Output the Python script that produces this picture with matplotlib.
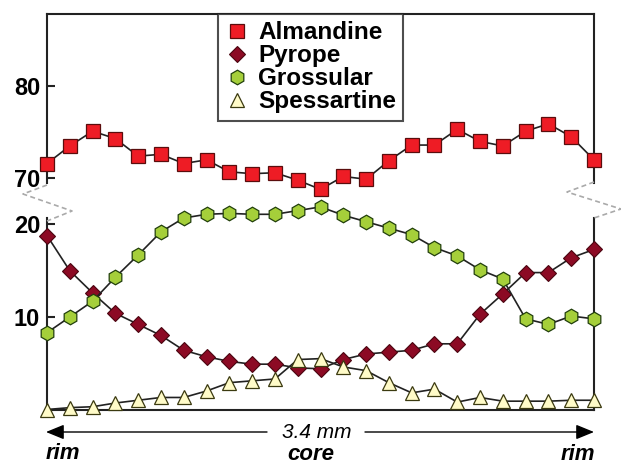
import numpy as np
import matplotlib
matplotlib.use("Agg")
import matplotlib.pyplot as plt
from matplotlib.lines import Line2D

# garnet traverse, rim -> core -> rim (mol %)
labels = ["Almandine", "Pyrope", "Grossular", "Spessartine"]
almandine = [71.6, 73.5, 75.1, 74.3, 72.4, 72.6, 71.6, 72.0, 70.7, 70.5, 70.6, 69.8, 68.8,
             70.2, 69.9, 71.9, 73.6, 73.6, 75.3, 74.0, 73.5, 75.1, 75.9, 74.5, 72.0]
pyrope = [18.8, 15.0, 12.6, 10.4, 9.2, 8.0, 6.4, 5.7, 5.2, 4.9, 4.9, 4.5, 4.4,
          5.4, 6.0, 6.2, 6.4, 7.1, 7.1, 10.3, 12.5, 14.8, 14.8, 16.4, 17.3]
grossular = [8.3, 10.0, 11.7, 14.3, 16.7, 19.2, 20.7, 21.1, 21.2, 21.1, 21.1, 21.5, 21.9,
             21.0, 20.3, 19.6, 18.9, 17.5, 16.6, 15.1, 14.1, 9.8, 9.2, 10.1, 9.8]
spessartine = [0.0, 0.2, 0.3, 0.7, 1.0, 1.3, 1.3, 2.0, 2.9, 3.1, 3.3, 5.4, 5.5,
               4.6, 4.2, 2.9, 1.8, 2.2, 0.8, 1.3, 0.9, 0.9, 0.9, 1.0, 1.0]
upper_ticks = [70, 80]
lower_ticks = [10, 20]
traverse_label = "3.4 mm"
end_labels = ["rim", "core", "rim"]

plt.rcParams['font.family'] = ['Liberation Sans', 'DejaVu Sans']

W, H = 621, 465


def fx(px):
    return px / W


def fy(py):
    return 1 - py / H


# marker styles for each mineral
styles = {
    "Almandine": dict(marker='s', ms=10.5, mfc='#ee1c25', mec='#5a0d0d', mew=0.9),
    "Pyrope": dict(marker='D', ms=8, mfc='#8c0a24', mec='#4a0510', mew=0.8),
    "Grossular": dict(marker='h', ms=10.5, mfc='#a5cf3a', mec='#22400c', mew=0.9),
    "Spessartine": dict(marker='^', ms=10, mfc='#fffbc8', mec='#3b3a10', mew=0.9),
}


def style_axis(ax):
    for s in ax.spines.values():
        s.set_color('#222222')
        s.set_linewidth(1.5)
    ax.set_xticks([])
    ax.tick_params(axis='y', direction='in', length=6, width=1.5, pad=5,
                   labelsize=17, color='#222222')
    for t in ax.get_yticklabels():
        t.set_fontweight('bold')


def main():
    x = np.arange(len(almandine))
    fig = plt.figure(figsize=(W / 100, H / 100), dpi=100)

    ax_top = fig.add_axes([fx(47), fy(183), fx(594) - fx(47), fy(14) - fy(183)])
    ax_bot = fig.add_axes([fx(47), fy(409.5), fx(594) - fx(47), fy(218) - fy(409.5)])

    line_kw = dict(color='#222222', lw=1.2, clip_on=False)
    ax_top.plot(x, almandine, **line_kw, **styles["Almandine"], zorder=3)
    ax_bot.plot(x, pyrope, **line_kw, **styles["Pyrope"], zorder=3)
    ax_bot.plot(x, grossular, **line_kw, **styles["Grossular"], zorder=3)
    ax_bot.plot(x, spessartine, **line_kw, **styles["Spessartine"], zorder=4)

    ax_top.set_xlim(0, len(x) - 1)
    ax_bot.set_xlim(0, len(x) - 1)
    ax_top.set_ylim(69.49, 87.8)
    ax_bot.set_ylim(0, 20.7)
    ax_top.set_yticks(upper_ticks)
    ax_bot.set_yticks(lower_ticks)
    style_axis(ax_top)
    style_axis(ax_bot)
    ax_top.spines['bottom'].set_visible(False)
    ax_bot.spines['top'].set_visible(False)

    # zigzag break marks
    brk = dict(color='#aaaaaa', lw=1.2, ls=(0, (3, 2)), transform=fig.transFigure)
    lx = [47, 23, 72, 47]
    ly = [185, 194, 211, 221]
    rx = [594, 567, 621, 594]
    ry = [182, 192, 209, 218]
    fig.add_artist(Line2D([fx(v) for v in lx], [fy(v) for v in ly], **brk))
    fig.add_artist(Line2D([fx(v) for v in rx], [fy(v) for v in ry], **brk))

    # legend with marker only handles
    handles = [Line2D([], [], ls='none', **styles[k]) for k in labels]
    leg = ax_top.legend(handles, labels, loc='upper left',
                        bbox_to_anchor=(fx(218), fy(14)), bbox_transform=fig.transFigure,
                        borderaxespad=0, frameon=True, fancybox=False,
                        prop=dict(size=17.5, weight='bold'), labelspacing=0.0,
                        handlelength=1.0, handletextpad=0.35, borderpad=0.3,
                        numpoints=1)
    leg.get_frame().set_edgecolor('#222222')
    leg.get_frame().set_linewidth(1.5)

    # traverse arrows and labels
    arr = dict(arrowstyle='-|>,head_length=1.1,head_width=0.45', color='black',
               lw=1.0, shrinkA=0, shrinkB=0, mutation_scale=10)
    fig.add_artist(plt.Annotation('', xy=(fx(46), fy(432)), xytext=(fx(267), fy(432)),
                                  xycoords='figure fraction', textcoords='figure fraction',
                                  arrowprops=arr))
    fig.add_artist(plt.Annotation('', xy=(fx(594), fy(432)), xytext=(fx(365), fy(432)),
                                  xycoords='figure fraction', textcoords='figure fraction',
                                  arrowprops=arr))
    fig.text(fx(317), fy(432), traverse_label, style='italic', fontsize=15,
             ha='center', va='center')
    fig.text(fx(63), fy(459), end_labels[0], style='italic', weight='bold',
             fontsize=16, ha='center', va='baseline')
    fig.text(fx(311), fy(460), end_labels[1], style='italic', weight='bold',
             fontsize=16, ha='center', va='baseline')
    fig.text(fx(578), fy(460), end_labels[2], style='italic', weight='bold',
             fontsize=16, ha='center', va='baseline')

    fig.savefig('out.png', dpi=100)


if __name__ == "__main__":
    main()
